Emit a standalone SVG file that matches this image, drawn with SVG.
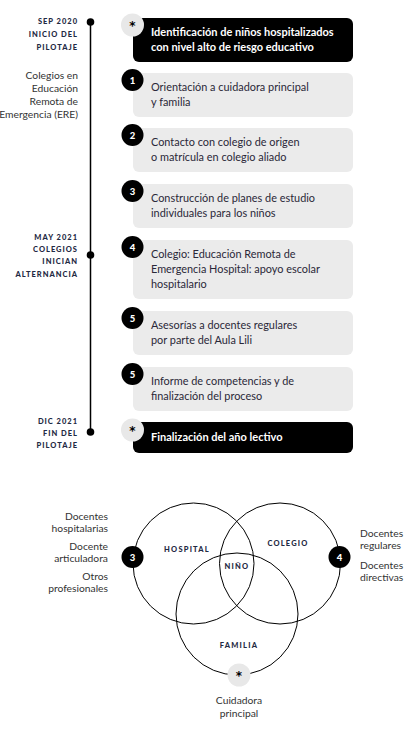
<svg xmlns="http://www.w3.org/2000/svg" width="412" height="733" viewBox="0 0 412 733">
<style>
.bg{fill:#ffffff}
.box{fill:#ebebeb}
.dark{fill:#000000}
.t{font-family:Lato,"Open Sans",sans-serif;font-size:10.9px;fill:#2a2838}
.tw{font-family:Lato,"Open Sans",sans-serif;font-size:11px;font-weight:bold;fill:#ffffff}
.cap{font-family:Lato,"Open Sans",sans-serif;font-size:7.5px;font-weight:900;fill:#1f2a44;letter-spacing:1px;text-anchor:end}
.side{font-family:Lato,"Open Sans",sans-serif;font-size:10.3px;fill:#333333}
.num{font-family:Lato,"Open Sans",sans-serif;font-size:9.5px;font-weight:900;fill:#ffffff;text-anchor:middle}
.star{font-family:"DejaVu Sans",sans-serif;font-size:12px;font-weight:bold;fill:#000000;text-anchor:middle}
.lab{font-family:Lato,"Open Sans",sans-serif;font-size:7.5px;font-weight:900;fill:#1f2a44;letter-spacing:1.2px;text-anchor:middle}
.ring{fill:none;stroke:#000000;stroke-width:1}
.gb{fill:#e8e8e8}
</style>
<rect class="bg" x="0" y="0" width="412" height="733"/>
<g id="connectors">
<line x1="90.5" y1="22" x2="90.5" y2="432" stroke="#000" stroke-width="1.5"/>
<circle cx="90.5" cy="22" r="3.8" fill="#000"/>
<circle cx="90.5" cy="255" r="3.8" fill="#000"/>
<circle cx="90.5" cy="432" r="3.8" fill="#000"/>
</g>
<g id="label-sep">
<text class="cap" x="78" y="24">SEP 2020</text>
<text class="cap" x="78" y="37">INICIO DEL</text>
<text class="cap" x="78" y="50">PILOTAJE</text>
</g>
<g id="label-ere" text-anchor="end">
<text class="side" x="78" y="78.5">Colegios en</text>
<text class="side" x="78" y="91.5">Educación</text>
<text class="side" x="78" y="104.5">Remota de</text>
<text class="side" x="78" y="117.5">Emergencia (ERE)</text>
</g>
<g id="label-may">
<text class="cap" x="78" y="240">MAY 2021</text>
<text class="cap" x="78" y="252">COLEGIOS</text>
<text class="cap" x="78" y="264">INICIAN</text>
<text class="cap" x="78" y="277">ALTERNANCIA</text>
</g>
<g id="label-dic">
<text class="cap" x="78" y="424">DIC 2021</text>
<text class="cap" x="78" y="436">FIN DEL</text>
<text class="cap" x="78" y="448">PILOTAJE</text>
</g>
<g id="step-start">
<rect class="dark" x="133" y="18" width="220" height="44" rx="6"/>
<circle class="gb" cx="132.5" cy="25" r="11.5"/>
<text class="star" x="132.5" y="30">*</text>
<text class="tw" x="151" y="36">Identificación de niños hospitalizados</text>
<text class="tw" x="151" y="51">con nivel alto de riesgo educativo</text>
</g>
<g id="step-1">
<rect class="box" x="133" y="73" width="220" height="44" rx="6"/>
<circle class="dark" cx="132.5" cy="80" r="11"/>
<text class="num" x="132.5" y="83.5">1</text>
<text class="t" x="151" y="91">Orientación a cuidadora principal</text>
<text class="t" x="151" y="106">y familia</text>
</g>
<g id="step-2">
<rect class="box" x="133" y="128" width="220" height="44" rx="6"/>
<circle class="dark" cx="132.5" cy="135" r="11"/>
<text class="num" x="132.5" y="138.5">2</text>
<text class="t" x="151" y="146">Contacto con colegio de origen</text>
<text class="t" x="151" y="161">o matrícula en colegio aliado</text>
</g>
<g id="step-3">
<rect class="box" x="133" y="184" width="220" height="44" rx="6"/>
<circle class="dark" cx="132.5" cy="191" r="11"/>
<text class="num" x="132.5" y="194.5">3</text>
<text class="t" x="151" y="202">Construcción de planes de estudio</text>
<text class="t" x="151" y="217">individuales para los niños</text>
</g>
<g id="step-4">
<rect class="box" x="133" y="240" width="220" height="59" rx="6"/>
<circle class="dark" cx="132.5" cy="247" r="11"/>
<text class="num" x="132.5" y="250.5">4</text>
<text class="t" x="151" y="258">Colegio: Educación Remota de</text>
<text class="t" x="151" y="273">Emergencia Hospital: apoyo escolar</text>
<text class="t" x="151" y="288">hospitalario</text>
</g>
<g id="step-5a">
<rect class="box" x="133" y="311" width="220" height="44" rx="6"/>
<circle class="dark" cx="132.5" cy="318" r="11"/>
<text class="num" x="132.5" y="321.5">5</text>
<text class="t" x="151" y="329">Asesorías a docentes regulares</text>
<text class="t" x="151" y="344">por parte del Aula Lili</text>
</g>
<g id="step-5b">
<rect class="box" x="133" y="367" width="220" height="44" rx="6"/>
<circle class="dark" cx="132.5" cy="374" r="11"/>
<text class="num" x="132.5" y="377.5">5</text>
<text class="t" x="151" y="385">Informe de competencias y de</text>
<text class="t" x="151" y="400">finalización del proceso</text>
</g>
<g id="step-end">
<rect class="dark" x="133" y="422" width="220" height="31" rx="6"/>
<circle class="gb" cx="132.5" cy="430" r="11.5"/>
<text class="star" x="132.5" y="435">*</text>
<text class="tw" x="151" y="441">Finalización del año lectivo</text>
</g>
<g id="venn-hospital">
<circle class="ring" cx="193.5" cy="563.5" r="60.5"/>
<text class="lab" x="187" y="552">HOSPITAL</text>
</g>
<g id="venn-colegio">
<circle class="ring" cx="280" cy="563.5" r="60.5"/>
<text class="lab" x="288" y="546">COLEGIO</text>
</g>
<g id="venn-familia">
<circle class="ring" cx="237" cy="614" r="61"/>
<text class="lab" x="239" y="648">FAMILIA</text>
</g>
<g id="venn-nino">
<text class="lab" x="237" y="569">NIÑO</text>
</g>
<g id="badge-3">
<circle class="dark" cx="132.5" cy="557" r="11"/>
<text class="num" x="132.5" y="560.5">3</text>
</g>
<g id="badge-4">
<circle class="dark" cx="339.5" cy="557" r="11"/>
<text class="num" x="339.5" y="560.5">4</text>
</g>
<g id="badge-star">
<circle class="gb" cx="239" cy="675" r="11.5"/>
<text class="star" x="239" y="680">*</text>
</g>
<g id="list-hospital" text-anchor="end">
<text class="side" x="108" y="519.5">Docentes</text>
<text class="side" x="108" y="531.5">hospitalarias</text>
<text class="side" x="108" y="549.5">Docente</text>
<text class="side" x="108" y="561.5">articuladora</text>
<text class="side" x="108" y="579.5">Otros</text>
<text class="side" x="108" y="591.5">profesionales</text>
</g>
<g id="list-colegio">
<text class="side" x="360" y="536.5">Docentes</text>
<text class="side" x="360" y="548.5">regulares</text>
<text class="side" x="360" y="568.5">Docentes</text>
<text class="side" x="360" y="580.5">directivas</text>
</g>
<g id="list-familia" text-anchor="middle">
<text class="side" x="239" y="704">Cuidadora</text>
<text class="side" x="239" y="717">principal</text>
</g>
</svg>
